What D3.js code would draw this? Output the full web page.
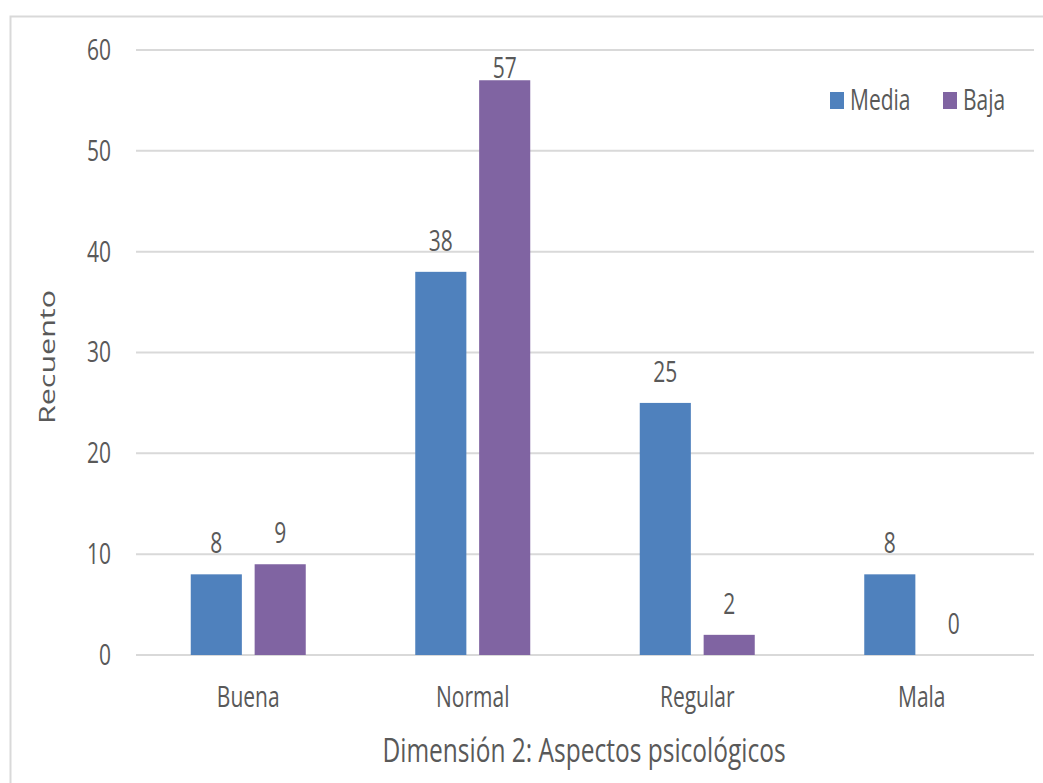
<!DOCTYPE html>
<html>
<head>
<meta charset="utf-8">
<script src="https://cdn.jsdelivr.net/npm/d3@7"></script>
<style>
  html, body { margin: 0; padding: 0; background: #fff; }
  svg { display: block; }
  text { font-family: "Open Sans", sans-serif; fill: #595959; }
</style>
</head>
<body>
<svg id="chart" width="1043" height="783"></svg>
<script>
const categories = ["Buena", "Normal", "Regular", "Mala"];
const seriesNames = ["Media", "Baja"];
const mediaValues = [8, 38, 25, 8];
const bajaValues = [9, 57, 2, 0];
const yTicks = [0, 10, 20, 30, 40, 50, 60];
const colors = ["#4F81BD", "#8064A2"];

const svg = d3.select("#chart");
const W = 1043, H = 783;
const TALL = 1.35; // glyphs are drawn taller than wide

// outer chart frame (open on the right and bottom edges)
svg.append("rect").attr("x", 10.5).attr("y", 16.5)
  .attr("width", W).attr("height", H)
  .attr("fill", "none").attr("stroke", "#D9D9D9").attr("stroke-width", 2);

const plot = { left: 136, right: 1034, top: 50, bottom: 655 };

const x = d3.scaleBand().domain(categories).range([plot.left, plot.right]);
const groupWidth = 115;
const xs = d3.scaleBand().domain(seriesNames)
  .range([(x.bandwidth() - groupWidth) / 2, (x.bandwidth() + groupWidth) / 2])
  .paddingInner(0.2);
const y = d3.scaleLinear().domain([0, 60]).range([plot.bottom, plot.top]);

// helper: text placed at (px, py) with vertical stretch
function label(g, px, py, str, size, anchor) {
  return g.append("text")
    .attr("transform", `translate(${px},${py}) scale(1,${TALL})`)
    .attr("text-anchor", anchor || "middle")
    .attr("dy", "0.35em")
    .attr("font-size", size)
    .text(str);
}

// gridlines
svg.append("g").selectAll("line").data(yTicks).join("line")
  .attr("x1", plot.left).attr("x2", plot.right)
  .attr("y1", d => y(d)).attr("y2", d => y(d))
  .attr("stroke", "#D9D9D9").attr("stroke-width", 2);

// y axis tick labels
const yg = svg.append("g");
yTicks.forEach(t => label(yg, 111, y(t), t, 21, "end"));

// x axis category labels
const xg = svg.append("g");
categories.forEach(c => label(xg, x(c) + x.bandwidth() / 2, 697, c, 21));

// bars
const rows = categories.map((c, i) => ({ cat: c, vals: [mediaValues[i], bajaValues[i]] }));
const groups = svg.append("g").selectAll("g").data(rows).join("g")
  .attr("transform", d => `translate(${x(d.cat)},0)`);

groups.selectAll("rect").data(d => d.vals.map((v, j) => ({ s: seriesNames[j], v, j }))).join("rect")
  .attr("x", d => xs(d.s)).attr("width", xs.bandwidth())
  .attr("y", d => y(d.v)).attr("height", d => y(0) - y(d.v))
  .attr("fill", d => colors[d.j]);

// value labels, kept inside the plot area
groups.each(function (d) {
  const g = d3.select(this);
  d.vals.forEach((v, j) => {
    const cy = Math.max(y(v) - 31, plot.top + 18);
    label(g, xs(seriesNames[j]) + xs.bandwidth() / 2, cy, v, 21);
  });
});

// y axis title
svg.append("text").attr("transform", "translate(48,357) rotate(-90) scale(1.45,1)")
  .attr("text-anchor", "middle").attr("dy", "0.35em").attr("font-size", 21)
  .text("Recuento");

// x axis title
label(svg, 584, 750, "Dimensión 2: Aspectos psicológicos", 24.5);

// legend
const legend = svg.append("g").selectAll("g").data(seriesNames).join("g")
  .attr("transform", (d, i) => `translate(${[830, 943][i]},0)`);
legend.append("rect").attr("y", 92).attr("width", 14).attr("height", 17).attr("fill", (d, i) => colors[i]);
legend.each(function (d) { label(d3.select(this), 20, 100, d, 21, "start"); });
</script>
</body>
</html>
